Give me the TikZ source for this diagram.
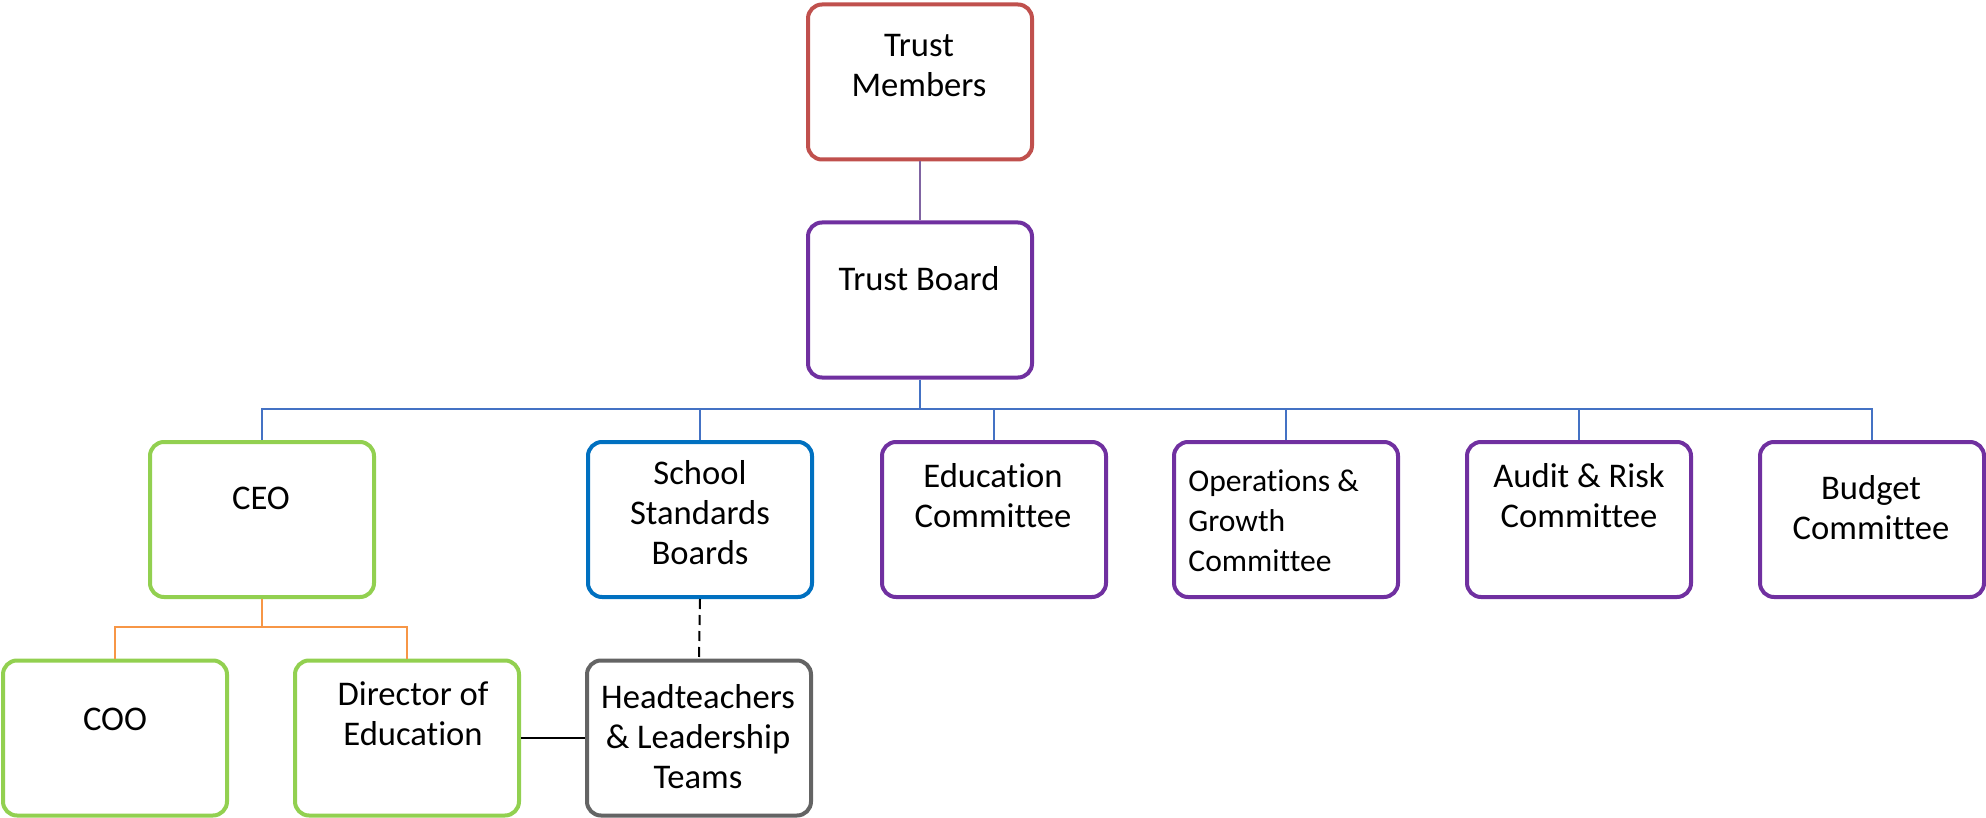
\documentclass[tikz,border=0pt]{standalone}
\usepackage{fontspec}
\setmainfont{Carlito}[Ligatures=NoCommon]
\begin{document}
\definecolor{cred}{HTML}{C0504D}
\definecolor{cpurple}{HTML}{7030A0}
\definecolor{cgreen}{HTML}{92D050}
\definecolor{cblue}{HTML}{0070C0}
\definecolor{cgrey}{HTML}{646464}
\definecolor{cbus}{HTML}{4472C4}
\definecolor{corange}{HTML}{F79646}
\definecolor{clink}{HTML}{8064A2}
\begin{tikzpicture}[x=0.5pt,y=-0.5pt,
  box/.style={draw=#1, line width=2pt, rounded corners=7pt,
    minimum width=112pt, minimum height=77.5pt, inner sep=0pt, fill=white},
  txt/.style={align=center, inner sep=0pt, font=\fontsize{17.3}{20}\selectfont},
  txtsm/.style={align=left, inner sep=0pt, anchor=west, font=\fontsize{15.8}{20}\selectfont},
  busline/.style={draw=cbus, line width=1pt},
  subline/.style={draw=corange, line width=1pt}]
\useasboundingbox (0,0) rectangle (1986,818);

% boxes
\node[box=cred]    (tm)     at (920,82)    {};
\node[box=cpurple] (tb)     at (920,300)   {};
\node[box=cgreen]  (ceo)    at (262,519.5) {};
\node[box=cblue]   (ssb)    at (700,519.5) {};
\node[box=cpurple] (edu)    at (994,519.5) {};
\node[box=cpurple] (ops)    at (1286,519.5){};
\node[box=cpurple] (audit)  at (1579,519.5){};
\node[box=cpurple] (budget) at (1872,519.5){};
\node[box=cgreen]  (coo)    at (115,738)   {};
\node[box=cgreen]  (dir)    at (407,738)   {};
\node[box=cgrey]   (head)   at (699,738)   {};

% labels
\node[txt] at (919,66)    {Trust\\Members};
\node[txt] at (919,279)   {Trust Board};
\node[txt] at (261,498)   {CEO};
\node[txt] at (700,513)   {School\\Standards\\Boards};
\node[txt] at (993,495.5) {Education\\Committee};
\node[txtsm] at (1188,521) {Operations \&\\Growth\\Committee};
\node[txt] at (1579,495.5){Audit \& Risk\\Committee};
\node[txt] at (1871,507.5){Budget\\Committee};
\node[txt] at (115,719)   {COO};
\node[txt] at (413,713.5) {Director of\\Education};
\node[txt] at (698,737)   {Headteachers\\\& Leadership\\Teams};

% connectors
\draw[draw=clink, line width=1pt] (tm.south) -- (tb.south |- tb.north);
\coordinate (bus) at (920,409);
\draw[busline] (tb.south) -- (bus);
\foreach \c in {ceo,ssb,edu,ops,audit,budget}
  \draw[busline] (bus) -| (\c.north);
\coordinate (sub) at (262,627);
\draw[subline] (ceo.south) -- (sub);
\draw[subline] (sub) -| (coo.north);
\draw[subline] (sub) -| (dir.north);
\draw[black, line width=1pt, dashed, dash pattern=on 5pt off 3pt] (ssb.south) -- (head.north);
\draw[black, line width=1pt] (dir.east) -- (head.west);
\end{tikzpicture}
\end{document}
